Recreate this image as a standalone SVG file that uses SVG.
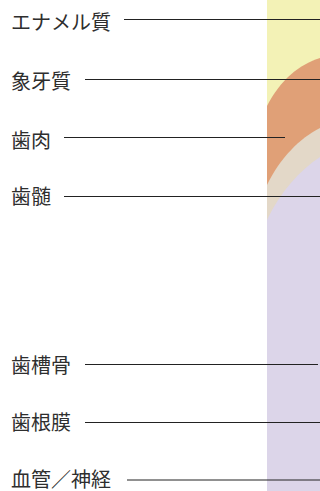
<svg xmlns="http://www.w3.org/2000/svg" width="320" height="491" viewBox="0 0 320 491">
  <style>
    .label { font-family: "Noto Sans CJK JP", "Noto Sans", sans-serif; font-size: 20px; fill: #2e2e2e; }
    .leader { stroke: #222222; stroke-width: 1; fill: none; }
  </style>
  <rect width="320" height="491" fill="#ffffff"/>

  <!-- tooth cross-section strip: layered tissues -->
  <g id="tooth-section">
    <rect x="267" y="0" width="53" height="491" fill="#f3f2b6"/>
    <path d="M267,106 C280,80 300,64 320,58 L320,491 L267,491 Z" fill="#e0a077"/>
    <path d="M267,185 C280,158 300,138 320,128 L320,491 L267,491 Z" fill="#e3d8c8"/>
    <path d="M267,220 C280,192 300,170 320,157 L320,491 L267,491 Z" fill="#dcd5e9"/>
  </g>

  <g id="connectors">
    <line class="leader" x1="124" y1="19.5" x2="320" y2="19.5"/>
    <line class="leader" x1="85" y1="79.5" x2="320" y2="79.5"/>
    <line class="leader" x1="64" y1="137.5" x2="285" y2="137.5"/>
    <line class="leader" x1="64" y1="196.5" x2="320" y2="196.5"/>
    <line class="leader" x1="85" y1="364.5" x2="318" y2="364.5"/>
    <line class="leader" x1="85" y1="422.5" x2="320" y2="422.5"/>
    <line class="leader" x1="127" y1="480" x2="320" y2="480"/>
  </g>

  <g id="enamel"><text class="label" x="11" y="30">エナメル質</text></g>
  <g id="dentin"><text class="label" x="11" y="88.5">象牙質</text></g>
  <g id="gingiva"><text class="label" x="11" y="147.5">歯肉</text></g>
  <g id="pulp"><text class="label" x="11" y="204">歯髄</text></g>
  <g id="alveolar-bone"><text class="label" x="11" y="373">歯槽骨</text></g>
  <g id="periodontal-ligament"><text class="label" x="11" y="430">歯根膜</text></g>
  <g id="vessels-nerves"><text class="label" x="11" y="487">血管／神経</text></g>
</svg>
